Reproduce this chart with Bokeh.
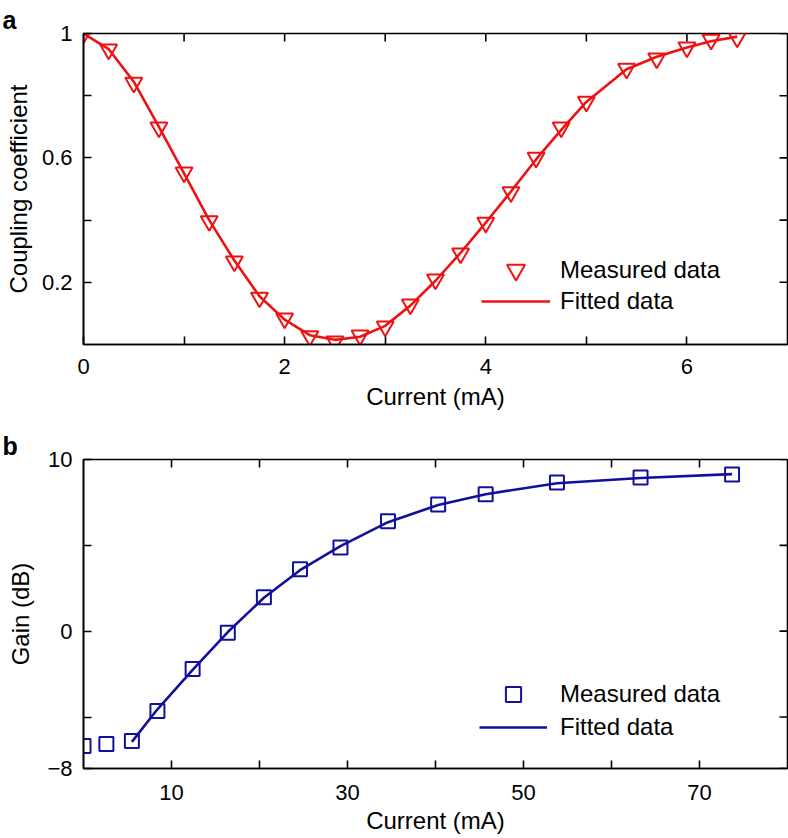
import math
from bokeh.plotting import figure
from bokeh.models import FixedTicker, Range1d, Legend, LegendItem, Title
from bokeh.layouts import column
from bokeh.embed import file_html
from bokeh.resources import INLINE

# ---------------- data: panel a ----------------
current_a = [0, 0.25, 0.5, 0.75, 1.0, 1.25, 1.5, 1.75, 2.0, 2.25, 2.5, 2.75, 3.0,
             3.25, 3.5, 3.75, 4.0, 4.25, 4.5, 4.75, 5.0, 5.4, 5.7, 6.0, 6.24, 6.5]
coupling_measured = [1.0, 0.949, 0.842, 0.698, 0.553, 0.397, 0.267, 0.151, 0.084, 0.027,
                     0.010, 0.029, 0.058, 0.129, 0.209, 0.293, 0.392, 0.490, 0.601, 0.698,
                     0.781, 0.887, 0.920, 0.955, 0.980, 0.987]
coupling_fitted = [1.0, 0.950, 0.845, 0.700, 0.550, 0.400, 0.270, 0.155, 0.080, 0.030,
                   0.015, 0.025, 0.060, 0.125, 0.205, 0.295, 0.392, 0.492, 0.595, 0.690,
                   0.780, 0.885, 0.925, 0.955, 0.975, 0.990]
xrange_a = (0, 7)
yrange_a = (0, 1)
xticks_a = [0, 2, 4, 6]
xminor_a = [1, 3, 5]
yticks_a = [0.2, 0.6, 1.0]
yminor_a = [0.4, 0.8]
ylabels_a = {0.2: "0.2", 0.6: "0.6", 1: "1"}

# ---------------- data: panel b ----------------
current_b = [0, 2.6, 5.5, 8.4, 12.4, 16.4, 20.5, 24.6, 29.2, 34.6, 40.3, 45.7, 53.8, 63.3, 73.7]
gain_measured = [-6.69, -6.57, -6.40, -4.65, -2.21, -0.09, 1.98, 3.60, 4.88, 6.40,
                 7.38, 7.97, 8.66, 8.95, 9.13]
current_b_fit = [5.5, 8.4, 12.4, 16.4, 20.5, 24.6, 29.2, 34.6, 40.3, 45.7, 53.8, 63.3, 73.7]
gain_fitted = [-6.45, -4.55, -2.25, -0.05, 1.95, 3.55, 4.95, 6.35, 7.35, 7.98, 8.62, 8.92, 9.15]
xrange_b = (0, 80)
yrange_b = (-8, 10)
xticks_b = [10, 30, 50, 70]
xminor_b = [20, 40, 60]
yticks_b = [-8, 0, 10]
yminor_b = [-5, 5]
ylabels_b = {-8: "\u22128", 0: "0", 10: "10"}

FONT = "Liberation Sans"
RED = "#ee1111"
BLUE = "#10109a"


def style_axis(ax, ticks, minor):
    ax.ticker = FixedTicker(ticks=ticks, minor_ticks=minor)
    ax.axis_line_color = "black"
    ax.axis_line_width = 1.6
    ax.major_tick_line_color = "black"
    ax.minor_tick_line_color = "black"
    ax.major_tick_line_width = 1.6
    ax.minor_tick_line_width = 1.6
    ax.major_tick_in = 8
    ax.major_tick_out = 0
    ax.minor_tick_in = 8
    ax.minor_tick_out = 0
    ax.major_label_text_font = FONT
    ax.major_label_text_color = "black"
    ax.major_label_text_font_size = "22px"
    ax.axis_label_text_font = FONT
    ax.axis_label_text_font_style = "normal"
    ax.axis_label_text_color = "black"
    ax.axis_label_text_font_size = "24px"


def make_panel(height, xr, yr, min_top, min_bottom, tag):
    p = figure(width=788, height=height, x_range=Range1d(*xr), y_range=Range1d(*yr),
               output_backend="svg", toolbar_location=None,
               min_border_left=83, min_border_right=1,
               min_border_top=min_top, min_border_bottom=min_bottom)
    p.title = Title(text=tag, align="left", offset=-81, standoff=0,
                    text_font=FONT, text_font_size="25px", text_font_style="bold",
                    text_color="black")
    p.xgrid.visible = False
    p.ygrid.visible = False
    p.outline_line_color = "black"
    p.outline_line_width = 1.6
    p.background_fill_color = "white"
    p.border_fill_color = "white"
    return p


def mirror_ticks(p, xr, yr, xt, yt):
    # inward tick marks on the top and right edges (clipped to the frame -> 8 px inside)
    p.scatter(xt, [yr[1]] * len(xt), marker="dash", size=16, angle=math.pi / 2,
              line_color="black", line_width=1.6)
    p.scatter([xr[1]] * len(yt), yt, marker="dash", size=16,
              line_color="black", line_width=1.6)


def add_legend(p, renderer, label, loc, glyph_w, glyph_h, standoff):
    leg = Legend(items=[LegendItem(label=label, renderers=[renderer])],
                 location=loc, glyph_width=glyph_w, glyph_height=glyph_h,
                 label_standoff=standoff, padding=0, margin=0, spacing=0,
                 border_line_color=None, background_fill_alpha=0,
                 label_text_font=FONT, label_text_font_size="24px",
                 label_text_color="black")
    p.add_layout(leg)


# ---------------- panel a ----------------
p1 = make_panel(420, xrange_a, yrange_a, 33, 76, "a")
style_axis(p1.xaxis[0], xticks_a, xminor_a)
style_axis(p1.yaxis[0], yticks_a, yminor_a)
p1.xaxis[0].axis_label = "Current (mA)"
p1.xaxis[0].major_label_standoff = 14
p1.xaxis[0].axis_label_standoff = 6
p1.yaxis[0].axis_label = "Coupling coefficient"
p1.yaxis[0].major_label_standoff = 11
p1.yaxis[0].axis_label_standoff = 7
p1.yaxis[0].major_label_overrides = ylabels_a
mirror_ticks(p1, xrange_a, yrange_a, xticks_a + xminor_a, yticks_a + yminor_a)

fit1 = p1.line(current_a, coupling_fitted, line_color=RED, line_width=2.6)
meas1 = p1.scatter(current_a, coupling_measured, marker="inverted_triangle", size=17,
                   fill_color=None, line_color=RED, line_width=2)
add_legend(p1, meas1, "Measured data", (398, 52), 69, 45, 10)
add_legend(p1, fit1, "Fitted data", (398, 27), 69, 32, 10)

# ---------------- panel b ----------------
p2 = make_panel(418, xrange_b, yrange_b, 39, 70, "b")
style_axis(p2.xaxis[0], xticks_b, xminor_b)
style_axis(p2.yaxis[0], yticks_b, yminor_b)
p2.xaxis[0].axis_label = "Current (mA)"
p2.xaxis[0].major_label_standoff = 16
p2.xaxis[0].axis_label_standoff = 4
p2.yaxis[0].axis_label = "Gain (dB)"
p2.yaxis[0].major_label_standoff = 11
p2.yaxis[0].axis_label_standoff = 10
p2.yaxis[0].major_label_overrides = ylabels_b
mirror_ticks(p2, xrange_b, yrange_b, xticks_b + xminor_b, yticks_b + yminor_b)

fit2 = p2.line(current_b_fit, gain_fitted, line_color=BLUE, line_width=2.6)
meas2 = p2.scatter(current_b, gain_measured, marker="square", size=14,
                   fill_color=None, line_color=BLUE, line_width=2)
add_legend(p2, meas2, "Measured data", (396, 55), 68, 38, 13)
add_legend(p2, fit2, "Fitted data", (396, 25), 68, 32, 13)

layout = column(p1, p2, spacing=0)
open("out.html", "w").write(file_html(layout, INLINE))
